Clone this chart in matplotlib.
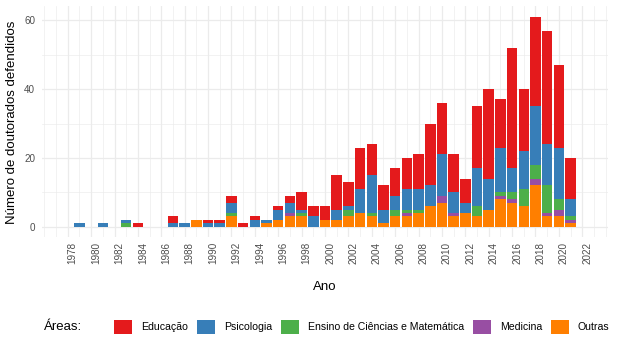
import matplotlib
matplotlib.use("Agg")
import matplotlib.pyplot as plt
from matplotlib.patches import Patch
import numpy as np

years = list(range(1978, 2023))
# values per year 1978..2022
educacao =   [0,0,0,0,0,0,1,0,0,2,0,0,1,1,2,1,1,0,1,2,5,3,4,10,7,12,9,7,8,9,10,18,15,11,7,18,26,14,35,18,26,33,24,12,0]
psicologia = [0,1,0,1,0,1,0,0,0,1,1,0,1,1,3,0,2,1,3,3,1,3,0,3,1,7,11,4,4,6,6,6,12,6,3,11,9,13,7,11,17,12,15,5,0]
ensino =     [0,0,0,0,0,1,0,0,0,0,0,0,0,0,1,0,0,0,0,0,1,0,0,0,2,0,1,0,2,1,1,0,0,0,0,3,0,1,2,5,4,8,3,1,0]
medicina =   [0,0,0,0,0,0,0,0,0,0,0,0,0,0,0,0,0,0,0,1,0,0,0,0,0,0,0,0,0,1,0,0,2,1,0,0,0,1,1,0,2,1,2,1,0]
outras =     [0,0,0,0,0,0,0,0,0,0,0,2,0,0,3,0,0,1,2,3,3,0,2,2,3,4,3,1,3,3,4,6,7,3,4,3,5,8,7,6,12,3,3,1,0]

labels = ["Educação", "Psicologia", "Ensino de Ciências e Matemática", "Medicina", "Outras"]
colors = ["#E41A1C", "#377EB8", "#4DAF4A", "#984EA3", "#FF7F00"]
series = [educacao, psicologia, ensino, medicina, outras]

plt.rcParams['font.family'] = ['Liberation Sans', 'DejaVu Sans']

W, H = 617, 352
fig = plt.figure(figsize=(W/100, H/100), dpi=100)
ax = fig.add_axes([42/W, 1-237.2/H, (608-42)/W, (237.2-6.4)/H])

x = np.array(years)
bottom = np.zeros(len(years))
# stack from bottom: Outras, Medicina, Ensino, Psicologia, Educação
for vals, col in zip(series[::-1], colors[::-1]):
    v = np.array(vals, dtype=float)
    ax.bar(x, v, width=0.9, bottom=bottom, color=col, linewidth=0, zorder=3)
    bottom += v

ax.set_xlim(1978 - 2.2, 2022 + 2.2)
ax.set_ylim(-3.05, 64.05)

xt = list(range(1978, 2023, 2))
ax.set_xticks(xt)
ax.set_xticklabels([str(t) for t in xt], rotation=90, fontsize=7.1, color='#4D4D4D')
ax.set_xticks(list(range(1976, 2025, 2)) + [y for y in range(1977, 2025, 2)], minor=True)
ax.set_yticks([0, 20, 40, 60])
ax.set_yticklabels(["0", "20", "40", "60"], fontsize=7.1, color='#4D4D4D')
ax.set_yticks([10, 30, 50], minor=True)
ax.tick_params(axis='both', which='both', length=0)
ax.tick_params(axis='x', pad=3.2)
ax.tick_params(axis='y', pad=5)
# left edge of the rotated labels sits on the tick (like vjust = 1)
for lbl in ax.get_xticklabels():
    lbl.set_rotation_mode('anchor')
    lbl.set_ha('right')
    lbl.set_va('top')

ax.grid(which='major', color='#EBEBEB', linewidth=0.9, zorder=0)
ax.grid(which='minor', color='#EBEBEB', linewidth=0.45, zorder=0)
for s in ax.spines.values():
    s.set_visible(False)
ax.set_axisbelow(True)

fig.text(12/W, 1-122/H, "Número de doutorados defendidos", rotation=90,
         ha='center', va='center', fontsize=9.5)
fig.text(325/W, 1-287/H, "Ano", ha='center', va='center', fontsize=9.5)

fig.text(44/W, 1-327/H, "Áreas:", ha='left', va='center', fontsize=9.5)
handles = [Patch(facecolor=c, edgecolor='none') for c in colors]
fig.legend(handles, labels, loc='center left', bbox_to_anchor=(114/W, 1-327/H),
           ncol=5, frameon=False, fontsize=7.6, handlelength=1.75, handleheight=1.8,
           handletextpad=0.8, columnspacing=0.85, borderpad=0, borderaxespad=0)

fig.savefig("out.png", dpi=100)
